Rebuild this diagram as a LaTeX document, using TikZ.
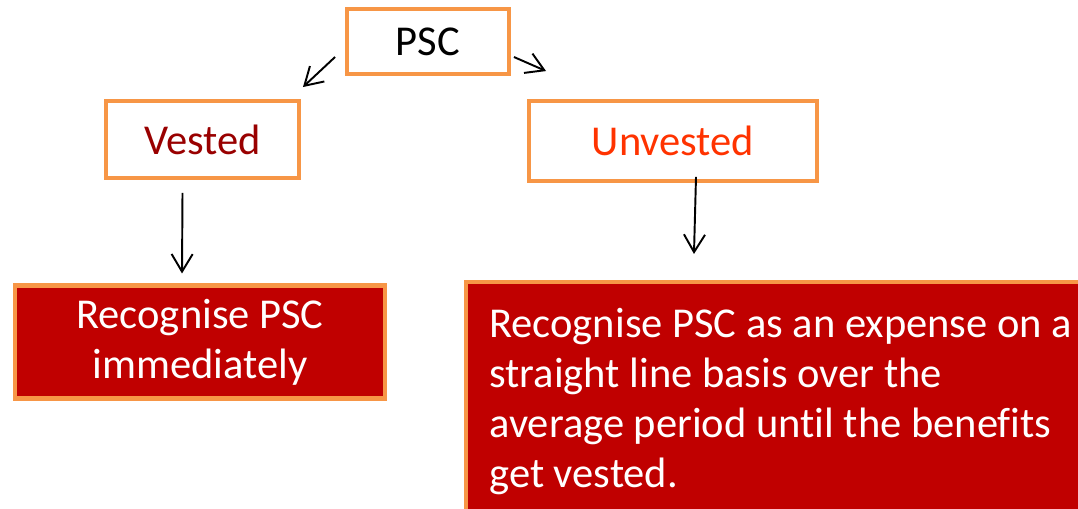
\documentclass[tikz,border=0pt]{standalone}
\usepackage{fontspec}
\setmainfont[Ligatures=NoCommon]{Carlito}
\usetikzlibrary{arrows.meta}
\definecolor{boxorange}{HTML}{F79646}
\definecolor{boxred}{HTML}{C00000}
\definecolor{vestred}{HTML}{990000}
\definecolor{unvestred}{HTML}{FF3300}
\newcommand{\boxfont}{\fontsize{24.2}{28.5}\selectfont}
\begin{document}
\begin{tikzpicture}[x=0.2mm,y=-0.2mm,
    headbox/.style={draw=boxorange,line width=2.5pt,fill=white,inner sep=0pt,font=\boxfont},
    resultbox/.style={draw=boxorange,line width=2.3pt,fill=boxred,text=white,inner sep=0pt,font=\boxfont},
    conn/.style={-{Straight Barb[length=10pt,width=12pt]},line width=1.1pt}]
   \useasboundingbox (0,0) rectangle (1078,508);
   \clip (0,0) rectangle (1078,508);
   \node[headbox,minimum width=32.3mm,minimum height=12.9mm] (psc) at (428,41.5) {PSC};
   \node[headbox,minimum width=38.5mm,minimum height=15.3mm,text=vestred] (vested) at (202.5,139.5) {Vested};
   \node[headbox,minimum width=57.5mm,minimum height=15.9mm,text=unvestred] (unvested) at (673,141) {Unvested};
   \node[resultbox,minimum width=74mm,minimum height=22.6mm,align=center] (now) at (200,342) {Recognise PSC\\immediately};
   \node[resultbox,minimum width=140mm,minimum height=63.6mm] (spread) at (816,441) {};
   \node[anchor=north west,inner sep=0pt,align=left,text=white,font=\boxfont] (spreadtext) at (489,308)
      {Recognise PSC as an expense on a\\straight line basis over the\\average period until the benefits\\get vested.};
   \draw[conn] ([shift={(-10,15.5)}]psc.west) -- ([shift={(2,-12)}]vested.north east);
   \draw[conn] ([shift={(3,15.5)}]psc.east) -- ([shift={(19,-28)}]unvested.north west);
   \draw[conn] ([shift={(-20,13)}]vested.south) -- ([shift={(-18,-10)}]now.north);
   \draw[conn] ([shift={(23,-6)}]unvested.south) -- ([shift={(230,-26)}]spread.north west);
\end{tikzpicture}
\end{document}
